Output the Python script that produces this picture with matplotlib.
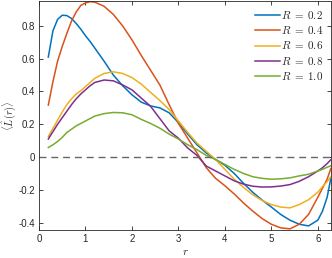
import matplotlib
matplotlib.use("Agg")
import matplotlib.pyplot as plt
import numpy as np

r = [0.2, 0.3, 0.4, 0.5, 0.6, 0.7, 0.8, 0.9, 1.0, 1.1, 1.2, 1.4, 1.6, 1.8, 2.0, 2.2, 2.4,
     2.6, 2.8, 3.0, 3.2, 3.4, 3.6, 3.8, 4.0, 4.2, 4.4, 4.6, 4.8, 5.0, 5.2, 5.4,
     5.6, 5.8, 6.0, 6.1, 6.2, 6.28]

L_R02 = [0.61, 0.77, 0.84, 0.865, 0.863, 0.845, 0.815, 0.78, 0.74, 0.705, 0.665, 0.585, 0.50,
         0.435, 0.38, 0.335, 0.312, 0.30, 0.27, 0.21, 0.14, 0.075, 0.025, -0.015,
         -0.05, -0.10, -0.16, -0.215, -0.262, -0.305, -0.35, -0.385, -0.41, -0.42,
         -0.385, -0.33, -0.245, -0.13]
L_R04 = [0.317, 0.46, 0.585, 0.675, 0.755, 0.83, 0.885, 0.925, 0.94, 0.948, 0.945, 0.92, 0.87,
         0.80, 0.715, 0.62, 0.53, 0.44, 0.32, 0.205, 0.115, 0.025, -0.065, -0.13,
         -0.175, -0.225, -0.28, -0.33, -0.375, -0.41, -0.432, -0.438, -0.41, -0.35,
         -0.245, -0.19, -0.135, -0.07]
L_R06 = [0.125, 0.175, 0.225, 0.275, 0.32, 0.355, 0.385, 0.405, 0.43, 0.455, 0.48, 0.51, 0.52,
         0.51, 0.485, 0.445, 0.395, 0.345, 0.29, 0.22, 0.15, 0.085, 0.035, -0.015,
         -0.075, -0.135, -0.185, -0.23, -0.265, -0.29, -0.305, -0.31, -0.29, -0.26,
         -0.215, -0.18, -0.15, -0.12]
L_R08 = [0.11, 0.155, 0.20, 0.24, 0.28, 0.32, 0.355, 0.385, 0.41, 0.435, 0.455, 0.47, 0.465,
         0.44, 0.41, 0.36, 0.31, 0.235, 0.16, 0.115, 0.055, 0.01, -0.055, -0.085,
         -0.115, -0.145, -0.165, -0.178, -0.183, -0.182, -0.177, -0.168, -0.148, -0.12,
         -0.085, -0.065, -0.04, -0.016]
L_R10 = [0.058, 0.075, 0.095, 0.12, 0.15, 0.17, 0.19, 0.205, 0.22, 0.235, 0.25, 0.265, 0.272,
         0.27, 0.258, 0.23, 0.205, 0.176, 0.14, 0.11, 0.075, 0.045, 0.01, -0.015,
         -0.045, -0.075, -0.10, -0.12, -0.13, -0.135, -0.133, -0.127, -0.115, -0.105,
         -0.085, -0.075, -0.062, -0.053]

labels = [r"$R\;=\;0.2$", r"$R\;=\;0.4$", r"$R\;=\;0.6$", r"$R\;=\;0.8$", r"$R\;=\;1.0$"]
series = [L_R02, L_R04, L_R06, L_R08, L_R10]
colors = [(0, 0.447, 0.741), (0.85, 0.325, 0.098), (0.929, 0.694, 0.125),
          (0.494, 0.184, 0.556), (0.466, 0.674, 0.188)]

xticks = [0, 1, 2, 3, 4, 5, 6]
yticks = [-0.4, -0.2, 0, 0.2, 0.4, 0.6, 0.8]
ytick_labels = ["-0.4", "-0.2", "0", "0.2", "0.4", "0.6", "0.8"]

plt.rcParams['font.family'] = ['Liberation Sans', 'DejaVu Sans']
plt.rcParams['mathtext.fontset'] = 'cm'

fig = plt.figure(figsize=(3.32, 2.58), dpi=100)
ax = fig.add_axes([39/332, 28/258, 292/332, 229/258])

for y, c, lab in zip(series, colors, labels):
    ax.plot(r, y, color=c, lw=1.1, label=lab, solid_joinstyle='round')

ax.axhline(0, color=(0.4, 0.4, 0.4), lw=1.0, ls=(0, (5, 3.5)))

ax.set_xlim(0, 2 * np.pi)
ax.set_ylim(-0.445, 0.952)
ax.set_xticks(xticks)
ax.set_yticks(yticks)
ax.set_yticklabels(ytick_labels)

axc = (0.15, 0.15, 0.15)
ax.tick_params(direction='in', top=True, right=True, length=3, width=0.6,
               labelsize=7, colors=axc, pad=3)
for s in ax.spines.values():
    s.set_color(axc)
    s.set_linewidth(0.6)

ax.set_xlabel(r"$r$", fontsize=8, color=axc, labelpad=2)
ax.set_ylabel(r"$\langle \hat{L}(r) \rangle$", fontsize=7.5, color=axc)
ax.yaxis.set_label_coords(-21/292, 0.5)

leg = ax.legend(loc='upper right', frameon=False, fontsize=8, handlelength=2.2,
                handletextpad=0.1, labelspacing=0.3, borderaxespad=0.3)
for t in leg.get_texts():
    t.set_color(axc)

fig.savefig("out.png", dpi=100)
